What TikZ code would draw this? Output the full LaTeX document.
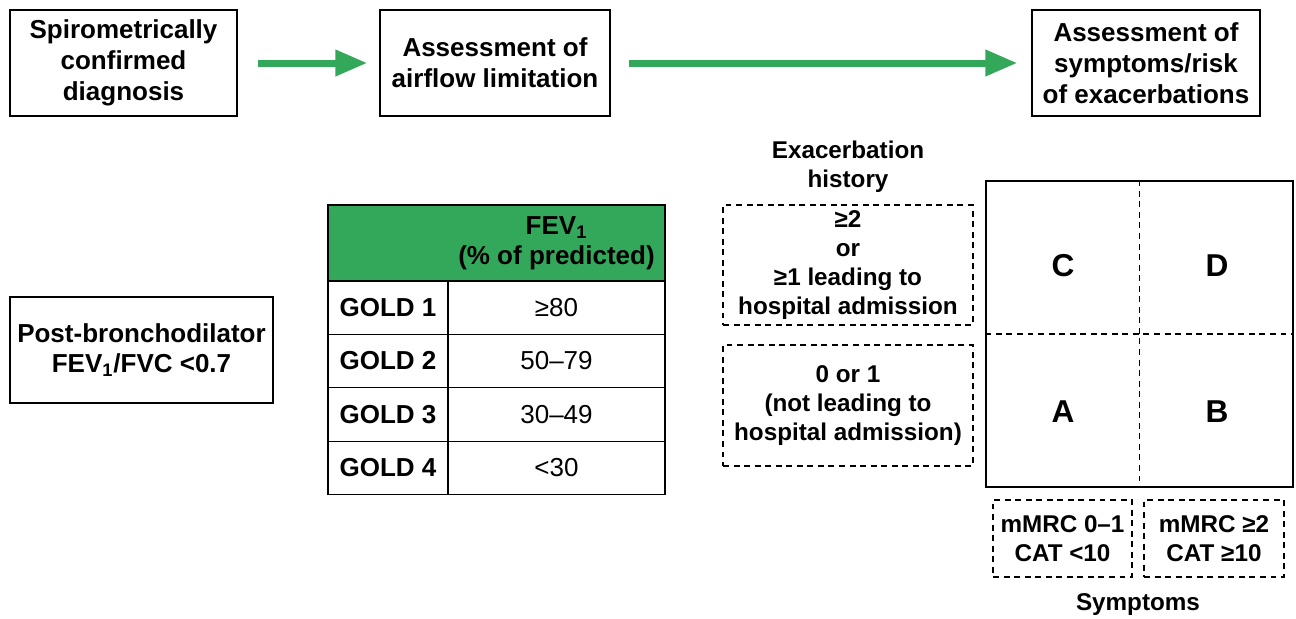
\documentclass[tikz,border=0pt]{standalone}
\usepackage{fontspec}
\setmainfont{Liberation Sans}
\usetikzlibrary{arrows.meta, positioning}
\definecolor{goldgreen}{RGB}{52,168,90}

\begin{document}
\begin{tikzpicture}[x=0.02cm, y=-0.02cm,
  every node/.style={font=\fontsize{14.8}{17}\selectfont\bfseries, align=center},
  small/.style={font=\fontsize{13.8}{16.6}\selectfont\bfseries},
  box/.style={rectangle, draw, line width=0.8pt, minimum height=2.12cm, inner sep=0pt, font=\fontsize{14.8}{17.6}\selectfont\bfseries},
  dbox/.style={rectangle, draw, dash pattern=on 3.4pt off 2.6pt, line width=0.8pt, inner sep=0pt, small},
  cell/.style={rectangle, draw, line width=0.8pt, minimum height=1.07cm, inner sep=0pt},
  valcell/.style={cell, minimum width=4.34cm, font=\fontsize{14.8}{17}\selectfont\mdseries},
  letter/.style={font=\fontsize{18}{20}\selectfont\bfseries},
  flow/.style={line width=0.14cm, draw=goldgreen, -{Triangle[length=0.64cm,width=0.5cm]}}]

\useasboundingbox (0,0) rectangle (1296,619);

\node[box, minimum width=4.54cm] (diag) at (123.5,63) {Spirometrically\\confirmed\\diagnosis};
\node[box, minimum width=4.6cm] (airflow) at (495,63) {Assessment of\\airflow limitation};
\node[box, minimum width=4.56cm] (symrisk) at (1146,63) {Assessment of\\symptoms/risk\\of exacerbations};

\draw[flow, shorten <=0.4cm, shorten >=0.24cm] (diag) -- (airflow);
\draw[flow, shorten <=0.36cm, shorten >=0.28cm] (airflow) -- (symrisk);

\node[box, minimum width=5.26cm] (postbd) at (141.5,350) {Post-bronchodilator\\FEV\textsubscript{1}/FVC <0.7};

% spirometric grades
\node[rectangle, draw, fill=goldgreen, line width=0.8pt, minimum width=6.74cm, minimum height=1.52cm] (hdr) at (496.5,243) {};
\node (fevhdr) at (556.5,243) {FEV\textsubscript{1}\\(\% of predicted)};
\node[cell, minimum width=2.4cm] (g1) at (388,307.5) {GOLD 1};
\node[cell, minimum width=2.4cm] (g2) at (388,361) {GOLD 2};
\node[cell, minimum width=2.4cm] (g3) at (388,414.5) {GOLD 3};
\node[cell, minimum width=2.4cm] (g4) at (388,468) {GOLD 4};
\node[valcell] (v1) at (556.5,307.5) {≥80};
\node[valcell] (v2) at (556.5,361) {50--79};
\node[valcell] (v3) at (556.5,414.5) {30--49};
\node[valcell] (v4) at (556.5,468) {<30};

% ABCD assessment
\node[small] (exhist) at (848,167) {Exacerbation\\history};
\node[dbox, minimum width=5cm, minimum height=2.4cm] (hirisk) at (848,265) {≥2\\or\\≥1 leading to\\hospital admission};
\node[dbox, minimum width=5cm, minimum height=2.42cm] (lorisk) at (848,405.5) {0 or 1\\(not leading to\\hospital admission)};

\node[rectangle, draw, line width=0.8pt, minimum width=6.14cm, minimum height=6.12cm] (grid) at (1139.5,334) {};
\draw[dash pattern=on 3.4pt off 2.6pt, line width=0.9pt] (grid.north) -- (grid.south);
\draw[dash pattern=on 3.4pt off 2.6pt, line width=0.9pt] (grid.west) -- (grid.east);
\node[letter] (grpC) at (1063,266) {C};
\node[letter] (grpD) at (1217,266) {D};
\node[letter] (grpA) at (1063,412) {A};
\node[letter] (grpB) at (1217,412) {B};

\node[dbox, minimum width=2.78cm, minimum height=1.54cm] (losym) at (1062.5,538.5) {mMRC 0--1\\CAT <10};
\node[dbox, minimum width=2.8cm, minimum height=1.54cm] (hisym) at (1214,538.5) {mMRC ≥2\\CAT ≥10};
\node[small] (symptoms) at (1138,605) {Symptoms};

\end{tikzpicture}
\end{document}
